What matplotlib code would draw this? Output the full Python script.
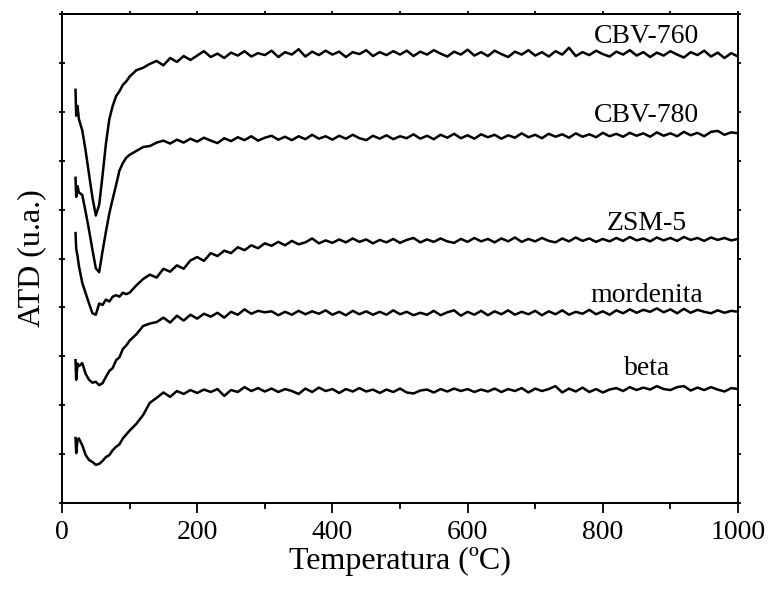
import numpy as np
import matplotlib
matplotlib.use("Agg")
import matplotlib.pyplot as plt
from matplotlib.ticker import MultipleLocator

plt.rcParams['font.family'] = ['Liberation Serif', 'DejaVu Serif']

# Temperature grid (ºC): denser at the start, then every 10 ºC
temp_head = [20, 21, 23, 25, 30, 35, 40, 45, 50, 55, 60, 65, 70, 75, 80, 85, 90, 95]
temp_tail = list(range(100, 1001, 10))
temperature = np.array(temp_head + temp_tail, dtype=float)

cbv760 = [
    8.45, 7.92, 8.12, 7.85, 7.62, 7.20, 6.72, 6.25, 5.88, 6.10, 6.70, 7.35, 7.85, 8.12, 8.32, 8.42, 8.55, 8.62,
    8.72, 8.85, 8.90, 8.98, 9.04, 8.95, 9.10, 9.02, 9.14, 9.06,
    9.15, 9.24, 9.12, 9.19, 9.10, 9.21, 9.15, 9.24, 9.13, 9.20,
    9.16, 9.25, 9.12, 9.22, 9.17, 9.28, 9.13, 9.23, 9.16, 9.25,
    9.17, 9.23, 9.12, 9.22, 9.18, 9.26, 9.14, 9.22, 9.16, 9.24,
    9.17, 9.25, 9.14, 9.23, 9.17, 9.26, 9.19, 9.13, 9.23, 9.17,
    9.27, 9.15, 9.22, 9.14, 9.25, 9.18, 9.12, 9.23, 9.17, 9.26,
    9.15, 9.22, 9.13, 9.24, 9.17, 9.31, 9.14, 9.22, 9.16, 9.25,
    9.18, 9.13, 9.23, 9.17, 9.26, 9.15, 9.22, 9.12, 9.21, 9.15,
    9.24, 9.17, 9.11, 9.22, 9.16, 9.25, 9.13, 9.21, 9.10, 9.20,
    9.13,
]

cbv780 = [
    6.65, 6.26, 6.48, 6.35, 6.30, 5.95, 5.58, 5.18, 4.80, 4.72, 5.15, 5.55, 5.92, 6.22, 6.50, 6.80, 6.95, 7.06,
    7.12, 7.20, 7.28, 7.30, 7.37, 7.41, 7.35, 7.43, 7.37, 7.45,
    7.39, 7.47, 7.41, 7.36, 7.46, 7.40, 7.48, 7.42, 7.50, 7.41,
    7.47, 7.51, 7.43, 7.49, 7.42, 7.50, 7.44, 7.53, 7.45, 7.50,
    7.43, 7.51, 7.45, 7.53, 7.46, 7.42, 7.51, 7.45, 7.52, 7.44,
    7.50, 7.46, 7.54, 7.45, 7.51, 7.44, 7.53, 7.47, 7.55, 7.46,
    7.52, 7.45, 7.54, 7.48, 7.53, 7.45, 7.52, 7.47, 7.56, 7.48,
    7.53, 7.46, 7.55, 7.49, 7.54, 7.47, 7.56, 7.49, 7.54, 7.48,
    7.57, 7.50, 7.55, 7.49, 7.57, 7.51, 7.56, 7.49, 7.58, 7.51,
    7.56, 7.50, 7.59, 7.52, 7.57, 7.50, 7.59, 7.61, 7.53, 7.58,
    7.56,
]

zsm5 = [
    5.52, 5.20, 5.05, 4.85, 4.50, 4.29, 4.08, 3.88, 3.85, 4.08, 4.05, 4.16, 4.12, 4.22, 4.25, 4.22, 4.30, 4.27,
    4.30, 4.45, 4.58, 4.67, 4.61, 4.79, 4.73, 4.86, 4.79, 4.96,
    5.03, 4.95, 5.11, 5.05, 5.16, 5.11, 5.23, 5.17, 5.27, 5.21,
    5.31, 5.26, 5.34, 5.27, 5.36, 5.29, 5.33, 5.41, 5.31, 5.37,
    5.32, 5.39, 5.33, 5.41, 5.34, 5.39, 5.31, 5.38, 5.33, 5.40,
    5.32, 5.38, 5.42, 5.33, 5.39, 5.34, 5.41, 5.35, 5.32, 5.40,
    5.34, 5.42, 5.35, 5.40, 5.33, 5.41, 5.35, 5.43, 5.34, 5.40,
    5.35, 5.42, 5.36, 5.33, 5.41, 5.35, 5.43, 5.36, 5.41, 5.34,
    5.40, 5.35, 5.42, 5.36, 5.44, 5.37, 5.41, 5.35, 5.43, 5.37,
    5.42, 5.36, 5.44, 5.38, 5.42, 5.36, 5.43, 5.38, 5.42, 5.37,
    5.40,
]

mordenita = [
    2.92, 2.52, 2.85, 2.80, 2.86, 2.64, 2.52, 2.46, 2.48, 2.41, 2.45, 2.58, 2.70, 2.76, 2.92, 2.98, 3.15, 3.22,
    3.32, 3.45, 3.62, 3.67, 3.70, 3.79, 3.69, 3.83, 3.73, 3.85,
    3.77, 3.87, 3.81, 3.89, 3.79, 3.91, 3.85, 3.96, 3.87, 3.93,
    3.90, 3.92, 3.84, 3.91, 3.85, 3.93, 3.86, 3.92, 3.87, 3.94,
    3.85, 3.91, 3.84, 3.93, 3.86, 3.92, 3.85, 3.91, 3.85, 3.94,
    3.86, 3.91, 3.84, 3.89, 3.85, 3.93, 3.84, 3.90, 3.94, 3.83,
    3.91, 3.85, 3.93, 3.84, 3.92, 3.86, 3.94, 3.85, 3.91, 3.86,
    3.93, 3.84, 3.92, 3.86, 3.94, 3.85, 3.91, 3.87, 3.95, 3.86,
    3.92, 3.85, 3.94, 3.88, 3.96, 3.89, 3.95, 3.91, 3.98, 3.90,
    3.96, 3.88, 3.97, 3.89, 3.95, 3.91, 3.88, 3.94, 3.89, 3.93,
    3.91,
]

beta = [
    1.33, 1.02, 1.30, 1.32, 1.18, 0.98, 0.88, 0.84, 0.78, 0.80, 0.86, 0.94, 0.98, 1.08, 1.15, 1.20, 1.32, 1.40,
    1.48, 1.62, 1.80, 2.05, 2.15, 2.26, 2.17, 2.29, 2.23, 2.31,
    2.25, 2.32, 2.27, 2.33, 2.19, 2.31, 2.27, 2.37, 2.29, 2.35,
    2.28, 2.34, 2.27, 2.33, 2.29, 2.23, 2.34, 2.27, 2.36, 2.29,
    2.33, 2.25, 2.33, 2.28, 2.35, 2.28, 2.32, 2.25, 2.32, 2.27,
    2.34, 2.26, 2.24, 2.30, 2.32, 2.26, 2.33, 2.28, 2.34, 2.29,
    2.33, 2.27, 2.32, 2.28, 2.34, 2.27, 2.33, 2.29, 2.35, 2.26,
    2.34, 2.29, 2.33, 2.39, 2.26, 2.34, 2.28, 2.36, 2.27, 2.33,
    2.26, 2.32, 2.35, 2.29, 2.37, 2.31, 2.36, 2.32, 2.39, 2.33,
    2.31, 2.37, 2.39, 2.30, 2.36, 2.31, 2.37, 2.32, 2.28, 2.35,
    2.33,
]

series = [cbv760, cbv780, zsm5, mordenita, beta]
labels = ["CBV-760", "CBV-780", "ZSM-5", "mordenita", "beta"]
label_x = [865, 865, 865, 865, 865]
label_y = [9.41, 7.79, 5.58, 4.11, 2.62]

fig = plt.figure(figsize=(7.68, 5.95), dpi=100)
ax = fig.add_axes([62/768, 1 - 503/595, 676/768, 489/595])

for vals in series:
    ax.plot(temperature, vals, color='black', lw=1.8, solid_joinstyle='round')

for lab, lx, ly in zip(labels, label_x, label_y):
    ax.text(lx, ly, lab, ha='center', va='baseline', fontsize=20)

ax.set_xlim(0, 1000)
ax.set_ylim(0, 10)
ax.xaxis.set_major_locator(MultipleLocator(200))
ax.xaxis.set_minor_locator(MultipleLocator(100))
ax.yaxis.set_major_locator(MultipleLocator(1))
ax.tick_params(axis='x', which='major', direction='out', length=7.5, width=1.3,
               labelsize=20, pad=5)
ax.tick_params(axis='x', which='minor', direction='out', length=4.5, width=1.3)
ax.tick_params(axis='y', which='major', direction='inout', length=4, width=1.3,
               labelleft=False)
for sp in ax.spines.values():
    sp.set_linewidth(1.4)

# tiny ticks on top and right
topax = ax.secondary_xaxis('top')
topax.xaxis.set_major_locator(MultipleLocator(100))
topax.tick_params(direction='out', length=2, width=1.3, labeltop=False)
rightax = ax.secondary_yaxis('right')
rightax.yaxis.set_major_locator(MultipleLocator(1))
rightax.tick_params(direction='out', length=2, width=1.3, labelright=False)
for sp in list(topax.spines.values()) + list(rightax.spines.values()):
    sp.set_linewidth(1.4)

ax.set_xlabel("Temperatura (ºC)", fontsize=23)
ax.set_ylabel("ATD (u.a.)", fontsize=23)
ax.xaxis.set_label_coords(0.5, -0.09)
ax.yaxis.set_label_coords(-0.024, 0.5)

fig.savefig("out.png", dpi=100)
